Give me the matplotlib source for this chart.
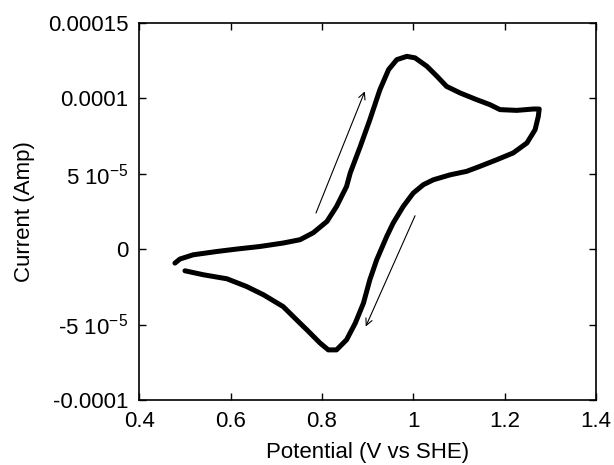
import matplotlib

matplotlib.use("Agg")
import matplotlib.pyplot as plt

plt.rcParams["font.family"] = ["Liberation Sans", "DejaVu Sans"]
plt.rcParams["mathtext.fontset"] = "custom"
plt.rcParams["mathtext.rm"] = "Liberation Sans"
plt.rcParams["mathtext.default"] = "regular"

# forward scan (left end -> vertex) then return scan
potential = [0.478, 0.489, 0.518, 0.570, 0.613, 0.664, 0.715, 0.752, 0.781, 0.811,
             0.832, 0.854, 0.862, 0.884, 0.905, 0.927, 0.946, 0.964, 0.986, 1.004,
             1.030, 1.052, 1.073, 1.103, 1.139, 1.168, 1.190, 1.227, 1.263, 1.276,
             1.274, 1.267, 1.249, 1.219, 1.183, 1.146, 1.117, 1.081, 1.044, 1.022,
             1.000, 0.978, 0.956, 0.942, 0.920, 0.905, 0.891, 0.873, 0.854, 0.832,
             0.814, 0.796, 0.767, 0.752, 0.715, 0.672, 0.635, 0.592, 0.540, 0.500]
current = [-9.3e-6, -6.6e-6, -3.8e-6, -1.6e-6, 0.0, 1.7e-6, 4.0e-6, 6.2e-6, 1.08e-5, 1.83e-5,
           2.82e-5, 4.15e-5, 5.04e-5, 6.80e-5, 8.57e-5, 1.056e-4, 1.189e-4, 1.255e-4, 1.277e-4, 1.267e-4,
           1.211e-4, 1.145e-4, 1.078e-4, 1.034e-4, 9.90e-5, 9.57e-5, 9.24e-5, 9.19e-5, 9.28e-5, 9.28e-5,
           8.79e-5, 7.91e-5, 7.03e-5, 6.37e-5, 5.92e-5, 5.48e-5, 5.15e-5, 4.92e-5, 4.59e-5, 4.26e-5,
           3.71e-5, 2.82e-5, 1.72e-5, 8.4e-6, -7.1e-6, -2.03e-5, -3.58e-5, -4.91e-5, -6.01e-5, -6.68e-5,
           -6.68e-5, -6.23e-5, -5.35e-5, -4.91e-5, -3.81e-5, -3.03e-5, -2.48e-5, -1.97e-5, -1.70e-5, -1.44e-5]

# scan direction arrows: (tail, head)
arrows = [((0.787, 2.39e-5), (0.894, 1.045e-4)),
          ((1.004, 2.21e-5), (0.896, -5.13e-5))]

xticks = [0.4, 0.6, 0.8, 1.0, 1.2, 1.4]
xticklabels = ["0.4", "0.6", "0.8", "1", "1.2", "1.4"]
yticks = [-1e-4, -5e-5, 0, 5e-5, 1e-4, 1.5e-4]
yticklabels = ["-0.0001", r"-5 10$^{-5}$", "0", r"5 10$^{-5}$", "0.0001", "0.00015"]

fig = plt.figure(figsize=(6.14, 4.65), dpi=100)
ax = fig.add_axes([0.2269, 0.1398, 0.7435, 0.8114])
ax.plot(potential, current, color="black", lw=3.6, solid_capstyle="round",
        solid_joinstyle="round")
for tail, head in arrows:
    ax.annotate("", xy=head, xytext=tail,
                arrowprops=dict(arrowstyle="->", color="black", lw=0.8,
                                mutation_scale=12, shrinkA=0, shrinkB=0))

ax.set_xlim(0.4, 1.4)
ax.set_ylim(-1e-4, 1.5e-4)
ax.set_xticks(xticks, xticklabels)
ax.set_yticks(yticks, yticklabels)
ax.tick_params(direction="in", length=5, width=1, labelsize=16, pad=8,
               top=True, right=True)
for s in ax.spines.values():
    s.set_linewidth(1.2)
ax.set_xlabel("Potential (V vs SHE)", fontsize=16, labelpad=7)
ax.set_ylabel("Current (Amp)", fontsize=16, labelpad=9)
fig.savefig("out.png", dpi=100)
